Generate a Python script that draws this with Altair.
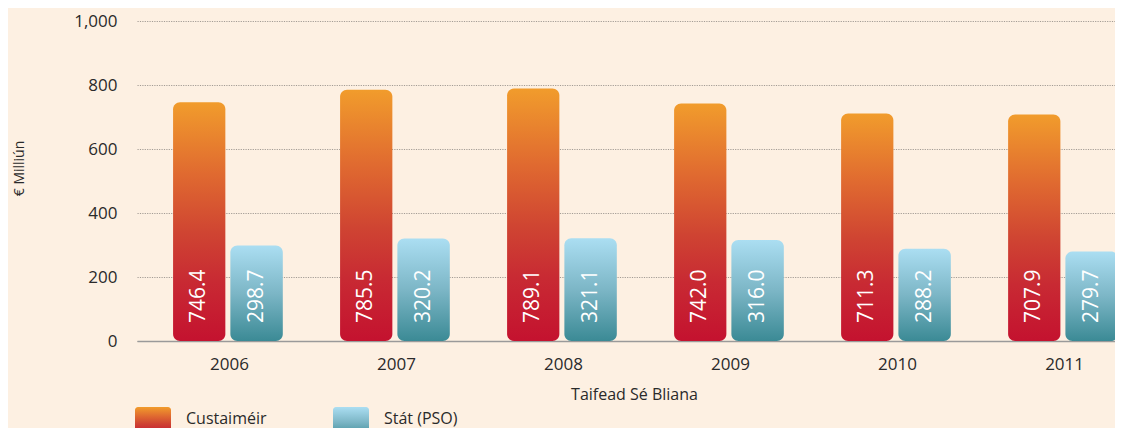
import altair as alt
import pandas as pd

years = [2006, 2007, 2008, 2009, 2010, 2011]
custaimeir = [746.4, 785.5, 789.1, 742.0, 711.3, 707.9]
stat_pso = [298.7, 320.2, 321.1, 316.0, 288.2, 279.7]
y_ticks = [0, 200, 400, 600, 800, 1000]
series_names = ["Custaiméir", "Stát (PSO)"]

FONT = "Open Sans"
TXT = "#2a2a2a"

df = pd.DataFrame({"year": years, "cust": custaimeir, "stat": stat_pso})

x_scale = alt.Scale(domain=[2005.449, 2011.305], nice=False, zero=False)
y_scale = alt.Scale(domain=[0, 1000], nice=False)

orange_grad = alt.Gradient(
    gradient="linear",
    stops=[
        alt.GradientStop(color="#f19c2c", offset=0),
        alt.GradientStop(color="#e06a30", offset=0.3),
        alt.GradientStop(color="#cf4432", offset=0.55),
        alt.GradientStop(color="#c82a33", offset=0.75),
        alt.GradientStop(color="#c4122f", offset=1),
    ],
    x1=0, x2=0, y1=0, y2=1,
)
blue_grad = alt.Gradient(
    gradient="linear",
    stops=[
        alt.GradientStop(color="#abdef2", offset=0),
        alt.GradientStop(color="#7cb6c6", offset=0.5),
        alt.GradientStop(color="#3b8a95", offset=1),
    ],
    x1=0, x2=0, y1=0, y2=1,
)

base = alt.Chart(df).transform_calculate(
    c0="datum.year - 0.335",
    c1="datum.year - 0.022",
    s0="datum.year + 0.008",
    s1="datum.year + 0.322",
    cm="datum.year - 0.1785",
    sm="datum.year + 0.165",
    cl="format(datum.cust, '.1f')",
    sl="format(datum.stat, '.1f')",
)

x_axis = alt.Axis(
    values=years, format="d", grid=False, ticks=False,
    domain=True, domainColor="#9a9a9a", domainWidth=1.5,
    labelFont=FONT, labelFontSize=17, labelColor=TXT, labelPadding=15,
    title="Taifead Sé Bliana", titleFont=FONT, titleFontSize=16,
    titleFontWeight="normal", titleColor=TXT,
    titleX=497, titleY=53, titleBaseline="middle",
)
y_axis = alt.Axis(
    values=y_ticks, format=",d", grid=True, gridColor="#a39c95",
    gridDash=[1.2, 1.2], gridWidth=1, ticks=False, domain=False,
    labelFont=FONT, labelFontSize=17, labelColor=TXT, labelPadding=20,
    title="€ Milliún", titleFont=FONT, titleFontSize=14,
    titleFontWeight="normal", titleColor=TXT,
    titleX=-118, titleY=147, titleBaseline="middle",
)

bars_c = base.mark_bar(color=orange_grad, cornerRadius=7).encode(
    x=alt.X("c0:Q", scale=x_scale, axis=x_axis),
    x2="c1:Q",
    y=alt.Y("cust:Q", scale=y_scale, axis=y_axis),
    y2=alt.Y2(datum=0),
)
bars_s = base.mark_bar(color=blue_grad, cornerRadius=7).encode(
    x=alt.X("s0:Q", scale=x_scale),
    x2="s1:Q",
    y=alt.Y("stat:Q", scale=y_scale),
    y2=alt.Y2(datum=0),
)

lab_c = base.mark_text(
    angle=270, align="left", baseline="middle", dx=18,
    font=FONT, fontSize=21, color="white",
).encode(
    x=alt.X("cm:Q", scale=x_scale),
    y=alt.Y(datum=0, scale=y_scale),
    text="cl:N",
)
lab_s = base.mark_text(
    angle=270, align="left", baseline="middle", dx=18,
    font=FONT, fontSize=21, color="white",
).encode(
    x=alt.X("sm:Q", scale=x_scale),
    y=alt.Y(datum=0, scale=y_scale),
    text="sl:N",
)

leg_df = pd.DataFrame({"name": series_names})
leg_c_box = alt.Chart(leg_df).transform_filter(
    alt.datum.name == series_names[0]
).mark_bar(color=orange_grad, cornerRadius=3).encode(
    x=alt.value(-2), x2=alt.value(34), y=alt.value(386), y2=alt.value(416)
)
leg_s_box = alt.Chart(leg_df).transform_filter(
    alt.datum.name == series_names[1]
).mark_bar(color=blue_grad, cornerRadius=3).encode(
    x=alt.value(196), x2=alt.value(232), y=alt.value(386), y2=alt.value(416)
)
leg_c_txt = alt.Chart(leg_df).transform_filter(
    alt.datum.name == series_names[0]
).mark_text(align="left", baseline="middle", font=FONT, fontSize=16, color=TXT).encode(
    x=alt.value(49), y=alt.value(398), text="name:N"
)
leg_s_txt = alt.Chart(leg_df).transform_filter(
    alt.datum.name == series_names[1]
).mark_text(align="left", baseline="middle", font=FONT, fontSize=16, color=TXT).encode(
    x=alt.value(247), y=alt.value(398), text="name:N"
)

chart = alt.layer(
    bars_c, bars_s, lab_c, lab_s, leg_c_box, leg_s_box, leg_c_txt, leg_s_txt
).properties(
    width=978, height=320,
    background="#fdf0e2",
    padding={"left": 129, "top": 13, "right": 0, "bottom": 87},
    autosize=alt.AutoSizeParams(type="none"),
).configure_view(stroke=None).configure_axis(labelFlush=False)

chart.save("out.html", embed_options={"renderer": "svg", "actions": False})
